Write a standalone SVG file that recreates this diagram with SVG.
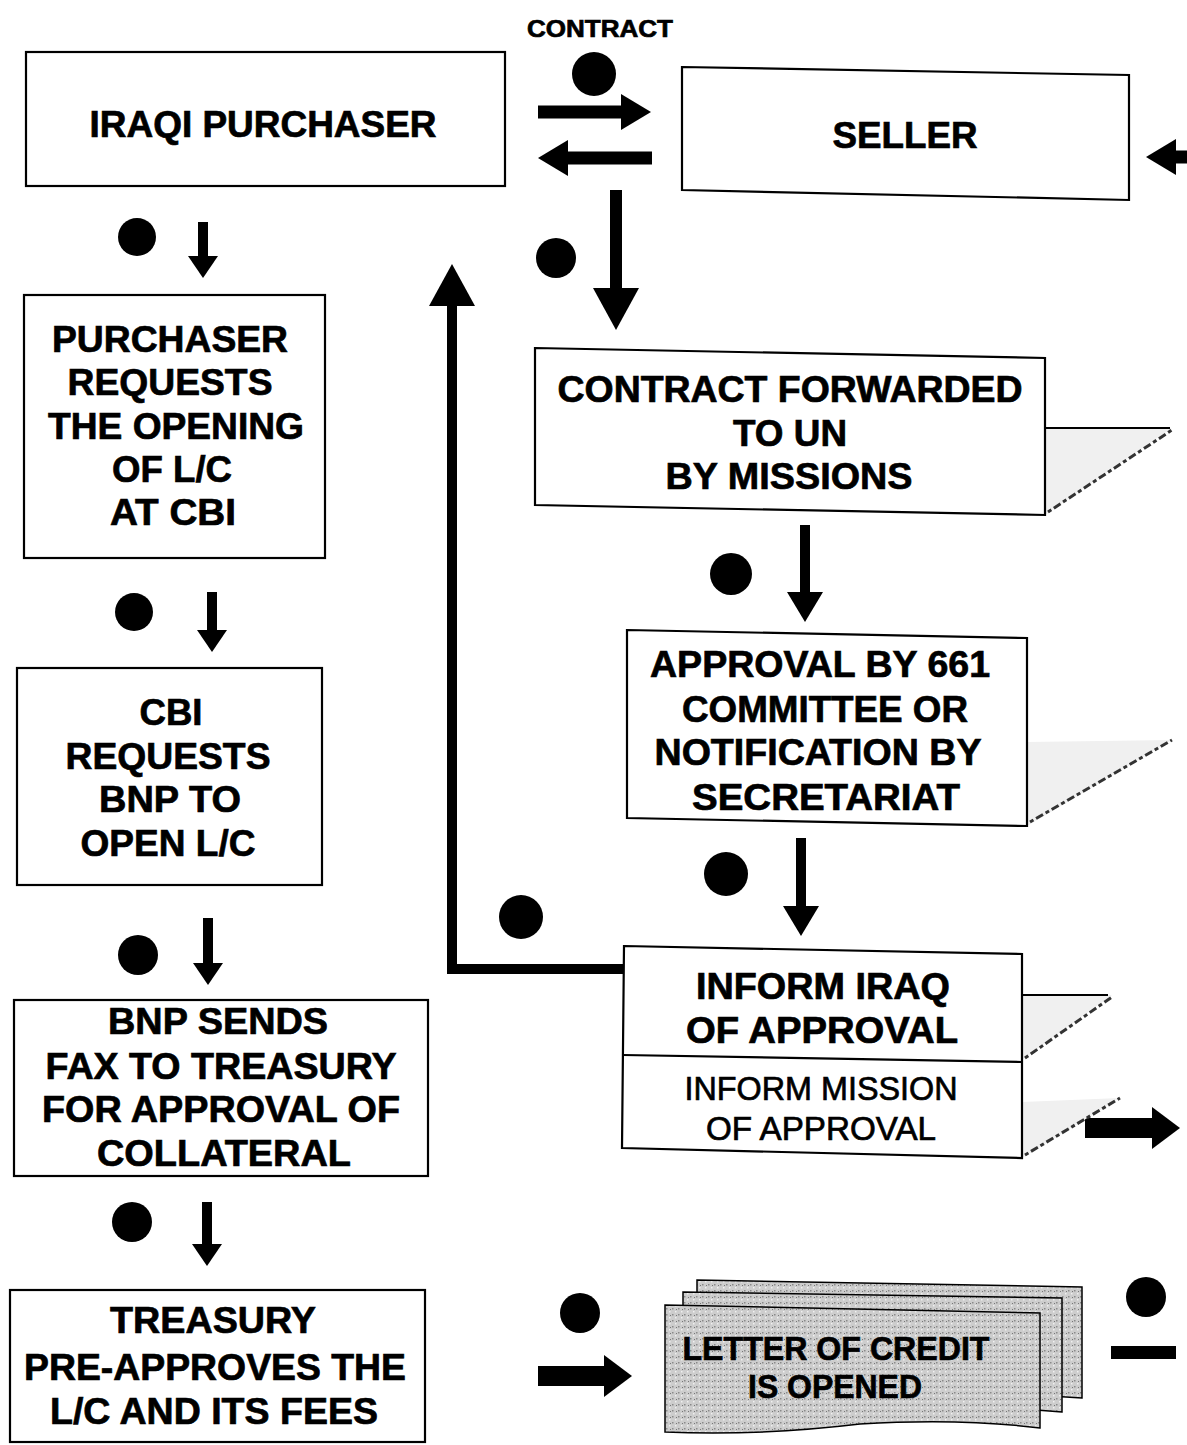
<svg xmlns="http://www.w3.org/2000/svg" width="1187" height="1445" viewBox="0 0 1187 1445">
<style>
.box{fill:#fff;stroke:#000;stroke-width:2.2}
.t{font-family:"Liberation Sans",Arial,sans-serif;font-weight:bold;text-anchor:middle;fill:#000;stroke:#000;stroke-width:0.7}
.tn{font-family:"Liberation Sans",Arial,sans-serif;font-weight:normal;text-anchor:middle;fill:#000;stroke:#000;stroke-width:0.7}
.dot{fill:#000}
.c{stroke:#000;fill:none}
.sh{fill:#f0f0f0;stroke:none}
.shl{stroke:#000;stroke-width:2;fill:none}
.shd{stroke:#333;stroke-width:3;stroke-dasharray:4 3 8 3;fill:none}
.sheet{fill:url(#stip);stroke:#000;stroke-width:1.5}
</style>
<defs>
<pattern id="stip" width="6" height="6" patternUnits="userSpaceOnUse">
<rect width="6" height="6" fill="#cdcdcd"/>
<rect x="0" y="0" width="1.5" height="1.5" fill="#8a8a8a"/>
<rect x="3" y="3" width="1.5" height="1.5" fill="#f0f0f0"/>
<rect x="4" y="1" width="1" height="1" fill="#777"/>
</pattern>
<marker id="m1" markerUnits="userSpaceOnUse" markerWidth="22" markerHeight="30" refX="0" refY="15" orient="auto"><path d="M0,0 L22,15 L0,30 z" fill="#000"/></marker>
<marker id="m2" markerUnits="userSpaceOnUse" markerWidth="30" markerHeight="36" refX="0" refY="18" orient="auto"><path d="M0,0 L30,18 L0,36 z" fill="#000"/></marker>
<marker id="m3" markerUnits="userSpaceOnUse" markerWidth="42" markerHeight="46" refX="0" refY="23" orient="auto"><path d="M0,0 L42,23 L0,46 z" fill="#000"/></marker>
<marker id="m4" markerUnits="userSpaceOnUse" markerWidth="28" markerHeight="42" refX="0" refY="21" orient="auto"><path d="M0,0 L28,21 L0,42 z" fill="#000"/></marker>
</defs>
<rect width="1187" height="1445" fill="#fff"/>

<g id="connectors">
<line class="c" x1="538" y1="112" x2="621" y2="112" stroke-width="13" marker-end="url(#m2)"/>
<line class="c" x1="652" y1="158" x2="568" y2="158" stroke-width="13" marker-end="url(#m2)"/>
<line class="c" x1="1187" y1="157" x2="1176" y2="157" stroke-width="13" marker-end="url(#m2)"/>
<line class="c" x1="616" y1="190" x2="616" y2="288" stroke-width="12" marker-end="url(#m3)"/>
<line class="c" x1="203" y1="222" x2="203" y2="256" stroke-width="10" marker-end="url(#m1)"/>
<line class="c" x1="212" y1="592" x2="212" y2="630" stroke-width="10" marker-end="url(#m1)"/>
<line class="c" x1="208" y1="918" x2="208" y2="963" stroke-width="10" marker-end="url(#m1)"/>
<line class="c" x1="207" y1="1202" x2="207" y2="1244" stroke-width="10" marker-end="url(#m1)"/>
<line class="c" x1="805" y1="525" x2="805" y2="592" stroke-width="10" marker-end="url(#m2)"/>
<line class="c" x1="801" y1="838" x2="801" y2="906" stroke-width="10" marker-end="url(#m2)"/>
<polyline class="c" points="625,969 452,969 452,306" stroke-width="10" stroke-linejoin="miter" marker-end="url(#m3)"/>
<line class="c" x1="1085" y1="1128" x2="1152" y2="1128" stroke-width="20" marker-end="url(#m4)"/>
<line class="c" x1="538" y1="1376" x2="604" y2="1376" stroke-width="20" marker-end="url(#m4)"/>
<rect x="1111" y="1346" width="65" height="13" fill="#000"/>
</g>

<g id="contract-label">
<text class="t" x="600" y="37" font-size="24" textLength="146" lengthAdjust="spacingAndGlyphs">CONTRACT</text>
<circle class="dot" cx="594" cy="74" r="22"/>
</g>

<g id="iraqi-purchaser">
<rect class="box" x="26" y="52" width="479" height="134"/>
<text class="t" x="263" y="137" font-size="37" textLength="347" lengthAdjust="spacingAndGlyphs">IRAQI PURCHASER</text>
</g>

<g id="seller">
<polygon class="box" points="682,67 1129,75 1129,200 682,190"/>
<text class="t" x="905" y="148" font-size="37" textLength="145" lengthAdjust="spacingAndGlyphs">SELLER</text>
</g>

<g id="dots">
<circle class="dot" cx="556" cy="258" r="20"/>
<circle class="dot" cx="137" cy="237" r="19"/>
<circle class="dot" cx="134" cy="612" r="19"/>
<circle class="dot" cx="138" cy="955" r="20"/>
<circle class="dot" cx="132" cy="1222" r="20"/>
<circle class="dot" cx="731" cy="574" r="21"/>
<circle class="dot" cx="726" cy="874" r="22"/>
<circle class="dot" cx="521" cy="917" r="22"/>
<circle class="dot" cx="580" cy="1313" r="20"/>
<circle class="dot" cx="1146" cy="1297" r="20"/>
</g>

<g id="purchaser-requests">
<rect class="box" x="24" y="295" width="301" height="263"/>
<text class="t" x="170" y="352" font-size="37" textLength="236" lengthAdjust="spacingAndGlyphs">PURCHASER</text>
<text class="t" x="170" y="395" font-size="37" textLength="205" lengthAdjust="spacingAndGlyphs">REQUESTS</text>
<text class="t" x="176" y="439" font-size="37" textLength="256" lengthAdjust="spacingAndGlyphs">THE OPENING</text>
<text class="t" x="172" y="482" font-size="37" textLength="120" lengthAdjust="spacingAndGlyphs">OF L/C</text>
<text class="t" x="173" y="525" font-size="37" textLength="126" lengthAdjust="spacingAndGlyphs">AT CBI</text>
</g>

<g id="cbi-requests">
<rect class="box" x="17" y="668" width="305" height="217"/>
<text class="t" x="171" y="725" font-size="37" textLength="63" lengthAdjust="spacingAndGlyphs">CBI</text>
<text class="t" x="168" y="769" font-size="37" textLength="205" lengthAdjust="spacingAndGlyphs">REQUESTS</text>
<text class="t" x="170" y="812" font-size="37" textLength="142" lengthAdjust="spacingAndGlyphs">BNP TO</text>
<text class="t" x="168" y="856" font-size="37" textLength="175" lengthAdjust="spacingAndGlyphs">OPEN L/C</text>
</g>

<g id="bnp-sends">
<rect class="box" x="14" y="1000" width="414" height="176"/>
<text class="t" x="218" y="1034" font-size="37" textLength="220" lengthAdjust="spacingAndGlyphs">BNP SENDS</text>
<text class="t" x="221" y="1079" font-size="37" textLength="351" lengthAdjust="spacingAndGlyphs">FAX TO TREASURY</text>
<text class="t" x="221" y="1122" font-size="37" textLength="358" lengthAdjust="spacingAndGlyphs">FOR APPROVAL OF</text>
<text class="t" x="224" y="1166" font-size="37" textLength="254" lengthAdjust="spacingAndGlyphs">COLLATERAL</text>
</g>

<g id="treasury">
<rect class="box" x="10" y="1290" width="415" height="152"/>
<text class="t" x="213" y="1333" font-size="37" textLength="206" lengthAdjust="spacingAndGlyphs">TREASURY</text>
<text class="t" x="215" y="1380" font-size="37" textLength="382" lengthAdjust="spacingAndGlyphs">PRE-APPROVES THE</text>
<text class="t" x="214" y="1424" font-size="37" textLength="328" lengthAdjust="spacingAndGlyphs">L/C AND ITS FEES</text>
</g>

<g id="contract-forwarded">
<polygon class="sh" points="1045,428 1172,428 1045,515"/>
<line class="shl" x1="1045" y1="428" x2="1170" y2="428"/>
<line class="shd" x1="1048" y1="512" x2="1172" y2="430"/>
<polygon class="box" points="535,348 1045,358 1045,515 535,505"/>
<text class="t" x="790" y="402" font-size="37" textLength="465" lengthAdjust="spacingAndGlyphs">CONTRACT FORWARDED</text>
<text class="t" x="790" y="446" font-size="37" textLength="114" lengthAdjust="spacingAndGlyphs">TO UN</text>
<text class="t" x="789" y="489" font-size="37" textLength="247" lengthAdjust="spacingAndGlyphs">BY MISSIONS</text>
</g>

<g id="approval">
<polygon class="sh" points="1027,742 1172,740 1027,826"/>
<line class="shd" x1="1030" y1="822" x2="1172" y2="740"/>
<polygon class="box" points="627,630 1027,638 1027,826 627,818"/>
<text class="t" x="820" y="677" font-size="37" textLength="340" lengthAdjust="spacingAndGlyphs">APPROVAL BY 661</text>
<text class="t" x="825" y="722" font-size="37" textLength="286" lengthAdjust="spacingAndGlyphs">COMMITTEE OR</text>
<text class="t" x="818" y="765" font-size="37" textLength="327" lengthAdjust="spacingAndGlyphs">NOTIFICATION BY</text>
<text class="t" x="826" y="810" font-size="37" textLength="268" lengthAdjust="spacingAndGlyphs">SECRETARIAT</text>
</g>

<g id="inform">
<polygon class="sh" points="1022,995 1112,995 1022,1060"/>
<line class="shl" x1="1022" y1="995" x2="1108" y2="995"/>
<line class="shd" x1="1025" y1="1058" x2="1112" y2="997"/>
<polygon class="sh" points="1022,1102 1120,1098 1022,1158"/>
<line class="shd" x1="1025" y1="1155" x2="1120" y2="1098"/>
<polygon class="box" points="624,946 1022,954 1022,1158 622,1148"/>
<line x1="623" y1="1055" x2="1022" y2="1062" stroke="#000" stroke-width="2.2"/>
<text class="t" x="823" y="999" font-size="37" textLength="254" lengthAdjust="spacingAndGlyphs">INFORM IRAQ</text>
<text class="t" x="822" y="1043" font-size="37" textLength="272" lengthAdjust="spacingAndGlyphs">OF APPROVAL</text>
<text class="tn" x="821" y="1100" font-size="33" textLength="273" lengthAdjust="spacingAndGlyphs">INFORM MISSION</text>
<text class="tn" x="821" y="1140" font-size="33" textLength="230" lengthAdjust="spacingAndGlyphs">OF APPROVAL</text>
</g>

<g id="letter-of-credit">
<path class="sheet" d="M697,1280 L1082,1287 L1082,1398 Q1000,1392 900,1396 Q800,1400 697,1395 Z"/>
<path class="sheet" d="M683,1292 L1062,1298 L1062,1412 Q980,1405 880,1410 Q780,1414 683,1410 Z"/>
<path class="sheet" d="M665,1305 L1040,1313 L1040,1428 Q960,1418 860,1424 Q760,1436 665,1432 Z"/>
<text class="t" x="836" y="1360" font-size="34" textLength="307" lengthAdjust="spacingAndGlyphs">LETTER OF CREDIT</text>
<text class="t" x="835" y="1398" font-size="34" textLength="174" lengthAdjust="spacingAndGlyphs">IS OPENED</text>
</g>
</svg>
